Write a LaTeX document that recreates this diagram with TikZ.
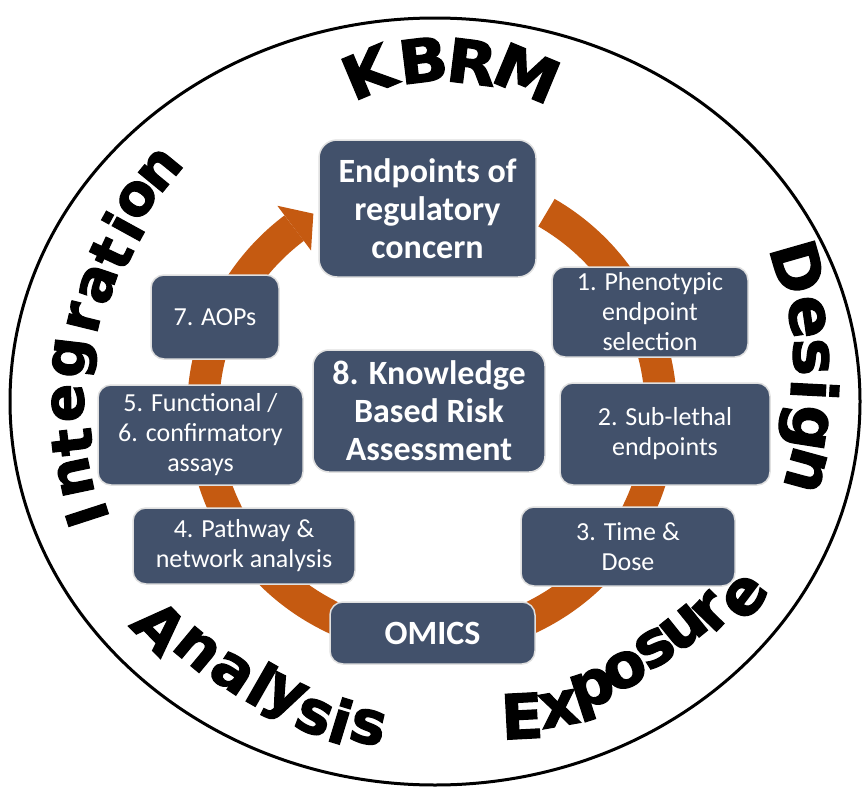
\documentclass[tikz,border=0pt]{standalone}
\usepackage{fontspec}
\setmainfont{Carlito}
\newfontfamily\arcfont[FakeBold=2]{DejaVu Sans}
\newfontfamily\arcwide[FakeBold=2, FakeStretch=1.08]{DejaVu Sans}
\usetikzlibrary{calc}
\definecolor{boxblue}{HTML}{42516B}
\definecolor{ringorange}{HTML}{C55A11}
\begin{document}
\begin{tikzpicture}[x=1pt,y=1pt,
  box/.style={fill=boxblue, draw=black!12, line width=1.5pt, rounded corners=13pt, text=white, align=center, inner sep=0pt, font=\fontsize{26}{30}\selectfont},
  bigbox/.style={box, font=\fontsize{34}{38}\selectfont\bfseries},
  arcl/.style={font=\arcfont\bfseries\fontsize{60}{60}\selectfont, inner sep=0pt, anchor=center},
  arck/.style={arcl, font=\arcwide\bfseries\fontsize{60}{60}\selectfont},
  arcd/.style={arcl, font=\arcfont\bfseries\fontsize{63}{63}\selectfont},
  arce/.style={arcl, font=\arcfont\bfseries\fontsize{62}{62}\selectfont},
  arci/.style={arcl, font=\arcfont\bfseries\fontsize{57}{57}\selectfont}
]
\useasboundingbox (0,0) rectangle (862,-787);
\fill[white] (0,0) rectangle (862,-787);
% outer ellipse
\draw[line width=3pt] (435,-401.5) ellipse [x radius=425, y radius=383.5];
% orange cycle
\coordinate (C) at (432,-411);
\draw[ringorange, line width=32pt] ($(C)+(60:229)$) arc[start angle=60, end angle=-233, radius=229];
\fill[ringorange] ($(C)+(127:257)$) -- ($(C)+(127:201)$) -- ($(C)+(127:229)+(37:24)$) -- cycle;
% boxes
\node[bigbox, minimum width=217pt, minimum height=137pt, rounded corners=18pt] (endp) at (427.5,-208.5) {Endpoints of\\regulatory\\concern};
\node[box, minimum width=196pt, minimum height=90pt] (phen) at (650,-312) {1. Phenotypic\\endpoint\\selection};
\node[box, minimum width=210pt, minimum height=102pt] (subl) at (665,-434) {2. Sub-lethal\\endpoints};
\node[box, minimum width=214pt, minimum height=79pt] (time) at (628,-546.5) {3. Time \&\\Dose};
\node[bigbox, minimum width=205pt, minimum height=62pt] (omics) at (432.5,-633) {OMICS};
\node[box, minimum width=222pt, minimum height=76pt] (path) at (244,-546) {4. Pathway \&\\network analysis};
\node[box, minimum width=205pt, minimum height=100pt] (func) at (200.5,-435) {5. Functional /\\6. confirmatory\\assays};
\node[box, minimum width=128pt, minimum height=84pt] (aop) at (215,-317) {7. AOPs};
\node[bigbox, minimum width=232pt, minimum height=122pt, rounded corners=16pt] (know) at (429,-411) {8. Knowledge\\Based Risk\\Assessment};
% curved words
\foreach \ch/\px/\py/\r [count=\i] in {K/368/72/22.8, B/423/60/7, R/472/62/-7, M/527/73/-22.6}
  {\node[arck, rotate=\r] (kb\i) at (\px,-\py) {\ch};}
\foreach \ch/\px/\py/\r [count=\i] in {D/798/267/-74, e/807/317/-81.8, s/811/357/-88, i/815/390/-92.9, g/803/427/-98.9, n/806/470/-105.3}
  {\node[arcd, rotate=\r] (de\i) at (\px,-\py) {\ch};}
\foreach \ch/\px/\py/\r [count=\i] in {E/522/716/3, x/559/709/10, p/594/694/18, o/625/670/25, s/655/648/32, u/684/628/39, r/711/612/46, e/745/597/53}
  {\node[arce, rotate=\r] (ex\i) at (\px,-\py) {\ch};}
\foreach \ch/\px/\py/\r [count=\i] in {A/160/627/-45.4, n/197/649/-39.8, a/232/673/-33.7, l/262/684/-29.8, y/283/700/-25.9, s/314/717/-20.8, i/341/721/-17, s/368/727/-13}
  {\node[arcl, rotate=\r] (an\i) at (\px,-\py) {\ch};}
\foreach \ch/\px/\py/\r [count=\i] in {I/87/515/108, n/75/477/101.9, t/72/442/96.5, e/68/403/90.5, g/75/358/83.3, r/84/318/76.2, a/98/284/71.1, t/111/253/64.9, i/123/226/61.2, o/137/199/56.4, n/160/170/50.6}
  {\node[arci, rotate=\r] (in\i) at (\px,-\py) {\ch};}
\end{tikzpicture}
\end{document}
